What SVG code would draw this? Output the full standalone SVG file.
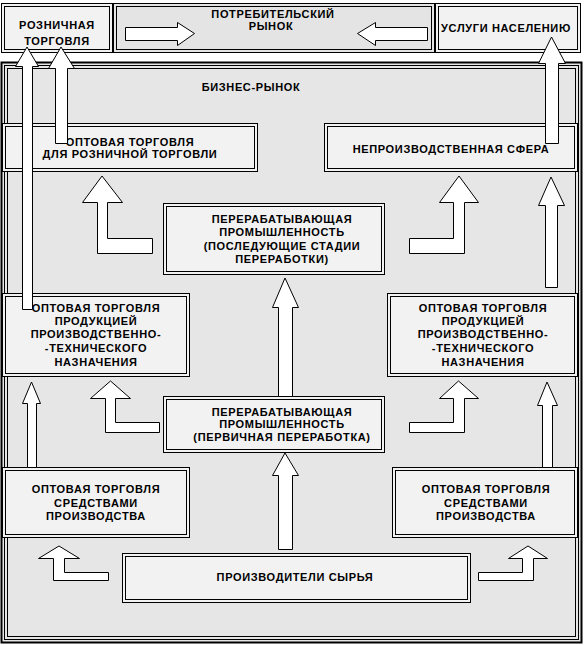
<svg xmlns="http://www.w3.org/2000/svg" width="586" height="645" viewBox="0 0 586 645">
<style>
.bo{fill:#f2f2f2;stroke:#000;stroke-width:1}
.bi{fill:none;stroke:#000;stroke-width:1}
.fr{fill:none;stroke:#000;stroke-width:1}
.ar{fill:#fff;stroke:#000;stroke-width:1;stroke-linejoin:miter}
text{font-family:"Liberation Sans",Arial,sans-serif;font-weight:bold;font-size:11px;letter-spacing:0.65px;fill:#000;text-anchor:middle}
</style>
<rect x="0" y="0" width="586" height="645" fill="#fff"/>
<g id="frame">
<rect x="1.5" y="62.5" width="580" height="580" fill="#e6e6e6" stroke="#000" stroke-width="2"/>
<rect class="fr" x="4.5" y="65.5" width="574" height="574"/>
<rect class="fr" x="7.5" y="68.5" width="568" height="568"/>
<text x="251" y="91">БИЗНЕС-РЫНОК</text>
</g>
<g id="retail">
<rect class="bo" x="1.5" y="3.5" width="111" height="49"/>
<rect class="bi" x="4.5" y="6.5" width="105" height="43"/>
<text x="57" y="29">РОЗНИЧНАЯ</text>
<text x="57" y="45">ТОРГОВЛЯ</text>
</g>
<g id="consumer">
<rect class="bo" x="113.5" y="3.5" width="321" height="49" style="fill:#e4e4e4"/>
<rect class="bi" x="116.5" y="6.5" width="315" height="43"/>
<text x="273" y="18">ПОТРЕБИТЕЛЬСКИЙ</text>
<text x="271" y="30">РЫНОК</text>
</g>
<g id="services">
<rect class="bo" x="435.5" y="3.5" width="145" height="49"/>
<rect class="bi" x="438.5" y="6.5" width="139" height="43"/>
<text x="506" y="32">УСЛУГИ НАСЕЛЕНИЮ</text>
</g>
<g id="wholesale-retail">
<rect class="bo" x="2.5" y="123.5" width="255" height="48"/>
<rect class="bi" x="5.5" y="126.5" width="249" height="42"/>
<text x="130" y="146">ОПТОВАЯ ТОРГОВЛЯ</text>
<text x="130" y="158">ДЛЯ РОЗНИЧНОЙ ТОРГОВЛИ</text>
</g>
<g id="nonproduction">
<rect class="bo" x="324.5" y="123.5" width="253" height="48"/>
<rect class="bi" x="327.5" y="126.5" width="247" height="42"/>
<text x="451" y="153">НЕПРОИЗВОДСТВЕННАЯ СФЕРА</text>
</g>
<g id="processing-later">
<rect class="bo" x="163.5" y="203.5" width="221" height="71"/>
<rect class="bi" x="166.5" y="206.5" width="215" height="65"/>
<text x="282" y="223">ПЕРЕРАБАТЫВАЮЩАЯ</text>
<text x="282" y="236">ПРОМЫШЛЕННОСТЬ</text>
<text x="282" y="250">(ПОСЛЕДУЮЩИЕ СТАДИИ</text>
<text x="282" y="263">ПЕРЕРАБОТКИ)</text>
</g>
<g id="industrial-wholesale-left">
<rect class="bo" x="2.5" y="293.5" width="187" height="83"/>
<rect class="bi" x="5.5" y="296.5" width="181" height="77"/>
<text x="96" y="312">ОПТОВАЯ ТОРГОВЛЯ</text>
<text x="96" y="325">ПРОДУКЦИЕЙ</text>
<text x="96" y="338">ПРОИЗВОДСТВЕННО-</text>
<text x="96" y="352">-ТЕХНИЧЕСКОГО</text>
<text x="96" y="366">НАЗНАЧЕНИЯ</text>
</g>
<g id="industrial-wholesale-right">
<rect class="bo" x="387.5" y="293.5" width="190" height="83"/>
<rect class="bi" x="390.5" y="296.5" width="184" height="77"/>
<text x="483" y="312">ОПТОВАЯ ТОРГОВЛЯ</text>
<text x="483" y="325">ПРОДУКЦИЕЙ</text>
<text x="483" y="338">ПРОИЗВОДСТВЕННО-</text>
<text x="483" y="352">-ТЕХНИЧЕСКОГО</text>
<text x="483" y="366">НАЗНАЧЕНИЯ</text>
</g>
<g id="processing-primary">
<rect class="bo" x="163.5" y="396.5" width="221" height="56"/>
<rect class="bi" x="166.5" y="399.5" width="215" height="50"/>
<text x="282" y="416">ПЕРЕРАБАТЫВАЮЩАЯ</text>
<text x="282" y="428">ПРОМЫШЛЕННОСТЬ</text>
<text x="282" y="441">(ПЕРВИЧНАЯ ПЕРЕРАБОТКА)</text>
</g>
<g id="means-wholesale-left">
<rect class="bo" x="2.5" y="467.5" width="187" height="70"/>
<rect class="bi" x="5.5" y="470.5" width="181" height="64"/>
<text x="96" y="493">ОПТОВАЯ ТОРГОВЛЯ</text>
<text x="96" y="507">СРЕДСТВАМИ</text>
<text x="96" y="520">ПРОИЗВОДСТВА</text>
</g>
<g id="means-wholesale-right">
<rect class="bo" x="392.5" y="467.5" width="185" height="70"/>
<rect class="bi" x="395.5" y="470.5" width="179" height="64"/>
<text x="486" y="493">ОПТОВАЯ ТОРГОВЛЯ</text>
<text x="486" y="507">СРЕДСТВАМИ</text>
<text x="486" y="520">ПРОИЗВОДСТВА</text>
</g>
<g id="raw-producers">
<rect class="bo" x="122.5" y="553.5" width="348" height="49"/>
<rect class="bi" x="125.5" y="556.5" width="342" height="43"/>
<text x="295" y="581">ПРОИЗВОДИТЕЛИ СЫРЬЯ</text>
</g>
<g id="connectors">
<polygon class="ar" points="125.5,27.5 177.5,27.5 177.5,22.5 194.5,33.5 177.5,45.5 177.5,40.5 125.5,40.5"/>
<polygon class="ar" points="427.5,27.5 375.5,27.5 375.5,22.5 357.5,33.5 375.5,45.5 375.5,40.5 427.5,40.5"/>
<polygon class="ar" points="27,47 38.5,66.5 32.5,66.5 32.5,309.5 22.5,309.5 22.5,66.5 15.5,66.5"/>
<polygon class="ar" points="61,47 74.5,68.5 67.5,68.5 67.5,143.5 55.5,143.5 55.5,68.5 48.5,68.5"/>
<polygon class="ar" points="551.5,37 565.5,63.5 558.5,63.5 558.5,143.5 545.5,143.5 545.5,63.5 538.5,63.5"/>
<polygon class="ar" points="102,176 122.5,202.5 107.5,202.5 107.5,238.5 152.5,238.5 152.5,253.5 97.5,253.5 97.5,202.5 82.5,202.5"/>
<polygon class="ar" points="459,176 478.5,202.5 464.5,202.5 464.5,253.5 409.5,253.5 409.5,238.5 453.5,238.5 453.5,202.5 439.5,202.5"/>
<polygon class="ar" points="551,177 564.5,205.5 557.5,205.5 557.5,287.5 545.5,287.5 545.5,205.5 538.5,205.5"/>
<polygon class="ar" points="285,278 298.5,307.5 292.5,307.5 292.5,396.5 278.5,396.5 278.5,307.5 272.5,307.5"/>
<polygon class="ar" points="110.5,381 130.5,398.5 115.5,398.5 115.5,422.5 159.5,422.5 159.5,432.5 105.5,432.5 105.5,398.5 90.5,398.5"/>
<polygon class="ar" points="458.5,381 478.5,398.5 464.5,398.5 464.5,432.5 409.5,432.5 409.5,422.5 453.5,422.5 453.5,398.5 439.5,398.5"/>
<polygon class="ar" points="31.5,382 40.5,403.5 36.5,403.5 36.5,467.5 27.5,467.5 27.5,403.5 22.5,403.5"/>
<polygon class="ar" points="547,382 557.5,405.5 552.5,405.5 552.5,467.5 542.5,467.5 542.5,405.5 537.5,405.5"/>
<polygon class="ar" points="285,453 298.5,475.5 292.5,475.5 292.5,549.5 278.5,549.5 278.5,475.5 272.5,475.5"/>
<polygon class="ar" points="59,546 79.5,558.5 64.5,558.5 64.5,572.5 108.5,572.5 108.5,580.5 53.5,580.5 53.5,558.5 38.5,558.5"/>
<polygon class="ar" points="528,546 547.5,558.5 533.5,558.5 533.5,580.5 478.5,580.5 478.5,572.5 522.5,572.5 522.5,558.5 508.5,558.5"/>
</g>
</svg>
